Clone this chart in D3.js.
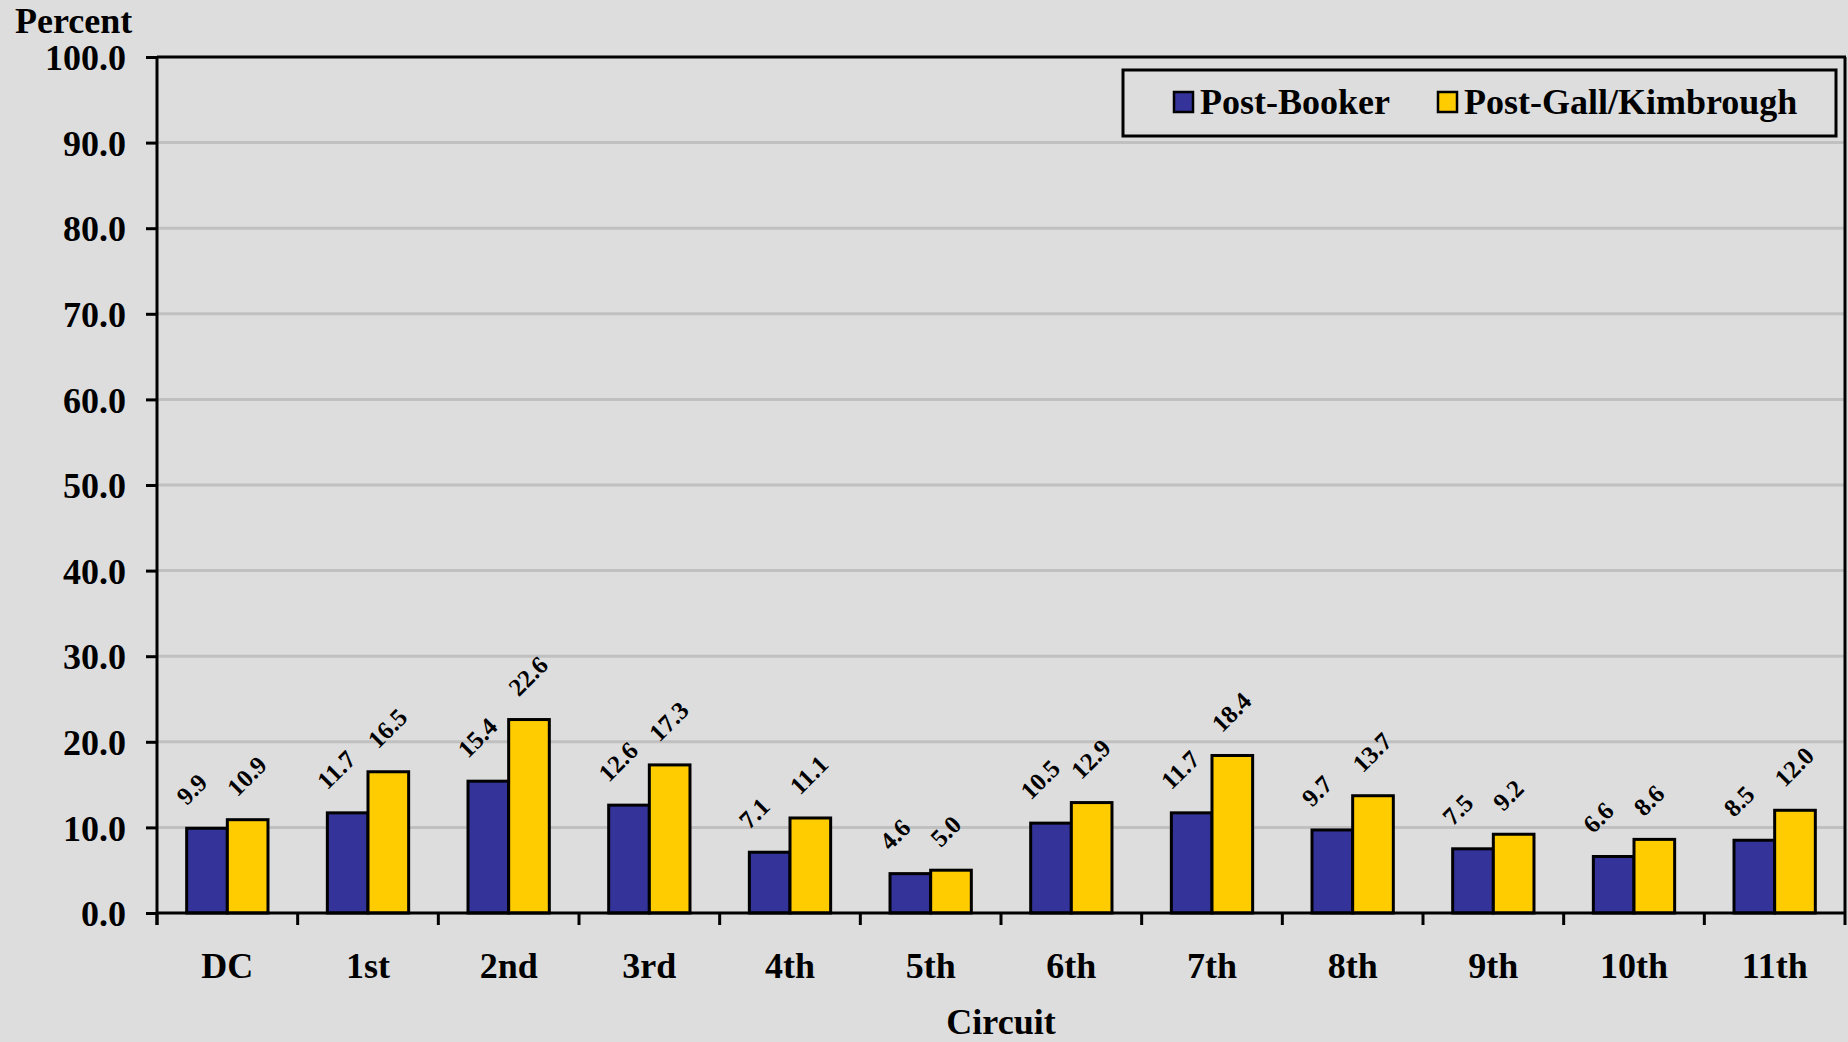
<!DOCTYPE html>
<html>
<head>
<meta charset="utf-8">
<script src="https://cdn.jsdelivr.net/npm/d3@7"></script>
<style>
  body { margin: 0; background: #dddddd; }
  svg text { font-family: "Liberation Serif", "Times New Roman", serif; font-weight: bold; fill: #000; }
</style>
</head>
<body>
<svg id="chartSvg" width="1848" height="1042"></svg>
<script>
// chart data
var circuits = ["DC", "1st", "2nd", "3rd", "4th", "5th", "6th", "7th", "8th", "9th", "10th", "11th"];
var postBooker = [9.9, 11.7, 15.4, 12.6, 7.1, 4.6, 10.5, 11.7, 9.7, 7.5, 6.6, 8.5];
var postGall = [10.9, 16.5, 22.6, 17.3, 11.1, 5.0, 12.9, 18.4, 13.7, 9.2, 8.6, 12.0];
var seriesNames = ["Post-Booker", "Post-Gall/Kimbrough"];
var seriesColors = ["#333399", "#ffcc00"];
var yTicks = [0, 10, 20, 30, 40, 50, 60, 70, 80, 90, 100];

var svg = d3.select("#chartSvg");
var plotLeft = 157, plotRight = 1845, plotTop = 57, plotBottom = 913;

svg.append("rect").attr("width", 1848).attr("height", 1042).attr("fill", "#dddddd");

var xScale = d3.scaleBand().domain(circuits).range([plotLeft, plotRight]).padding(0);
var yScale = d3.scaleLinear().domain([0, 100]).range([plotBottom, plotTop]);
var barScale = d3.scaleBand().domain([0, 1]).range([0, xScale.bandwidth()]).paddingOuter(0.73).paddingInner(0);

// gridlines
svg.append("g")
  .selectAll("line")
  .data(yTicks.filter(d => d > 0 && d < 100))
  .enter().append("line")
  .attr("x1", plotLeft).attr("x2", plotRight)
  .attr("y1", d => yScale(d)).attr("y2", d => yScale(d))
  .attr("stroke", "#c0c0c0").attr("stroke-width", 3);

// frame top & right
svg.append("line").attr("x1", plotLeft).attr("x2", plotRight + 1).attr("y1", plotTop).attr("y2", plotTop)
  .attr("stroke", "#000").attr("stroke-width", 3);
svg.append("line").attr("x1", plotRight).attr("x2", plotRight).attr("y1", plotTop).attr("y2", plotBottom)
  .attr("stroke", "#000").attr("stroke-width", 3);

// bars
var rows = circuits.map((c, i) => ({ c: c, vals: [postBooker[i], postGall[i]] }));
var groups = svg.append("g").selectAll("g")
  .data(rows).enter().append("g")
  .attr("transform", d => "translate(" + xScale(d.c) + ",0)");

groups.selectAll("rect")
  .data(d => d.vals.map((v, k) => ({ k: k, v: v })))
  .enter().append("rect")
  .attr("x", d => barScale(d.k))
  .attr("width", barScale.bandwidth())
  .attr("y", d => yScale(d.v))
  .attr("height", d => plotBottom - yScale(d.v))
  .attr("fill", d => seriesColors[d.k])
  .attr("stroke", "#000").attr("stroke-width", 3);

// rotated value labels (blue ones sit a bit further left)
var labelDx = [0, 10];
groups.selectAll("text")
  .data(d => d.vals.map((v, k) => ({ k: k, v: v })))
  .enter().append("text")
  .attr("transform", d => "translate(" + (barScale(d.k) + labelDx[d.k]) + "," + (yScale(d.v) - 22) + ") rotate(-45)")
  .attr("font-size", 25)
  .text(d => d3.format(".1f")(d.v));

// y axis
var yAxis = svg.append("g").attr("transform", "translate(" + plotLeft + ",0)")
  .call(d3.axisLeft(yScale).tickValues(yTicks).tickFormat(d3.format(".1f")).tickSize(11).tickPadding(20));
yAxis.select(".domain").attr("stroke-width", 3).attr("d", "M0," + plotTop + "V" + (plotBottom + 12));
yAxis.selectAll(".tick line").attr("stroke-width", 3);
yAxis.selectAll("text").attr("font-size", 36).attr("dy", "0.35em").style("font-family", "Liberation Serif").style("font-weight", "bold");

// x axis
var xAxis = svg.append("g").attr("transform", "translate(0," + plotBottom + ")")
  .call(d3.axisBottom(xScale).tickSize(0).tickPadding(0));
xAxis.select(".domain").attr("stroke-width", 3).attr("d", "M" + plotLeft + ",0H" + (plotRight + 1));
xAxis.selectAll(".tick text").attr("font-size", 36).attr("y", 65).attr("dy", 0)
  .style("font-family", "Liberation Serif").style("font-weight", "bold");
svg.append("g").selectAll("line")
  .data(d3.range(circuits.length + 1))
  .enter().append("line")
  .attr("x1", i => plotLeft + i * xScale.step()).attr("x2", i => plotLeft + i * xScale.step())
  .attr("y1", plotBottom).attr("y2", plotBottom + 12)
  .attr("stroke", "#000").attr("stroke-width", 3);

// axis titles
svg.append("text").attr("x", 15).attr("y", 33).attr("font-size", 36).text("Percent");
svg.append("text").attr("x", (plotLeft + plotRight) / 2).attr("y", 1034).attr("text-anchor", "middle")
  .attr("font-size", 36).text("Circuit");

// legend
var legend = svg.append("g");
legend.append("rect").attr("x", 1123).attr("y", 70).attr("width", 713).attr("height", 66)
  .attr("fill", "none").attr("stroke", "#000").attr("stroke-width", 3);
var legendX = [1174, 1438];
seriesNames.forEach(function (name, i) {
  legend.append("rect").attr("x", legendX[i]).attr("y", 92).attr("width", 19).attr("height", 20)
    .attr("fill", seriesColors[i]).attr("stroke", "#000").attr("stroke-width", 2.5);
  legend.append("text").attr("x", legendX[i] + 26).attr("y", 114).attr("font-size", 36).text(name);
});
</script>
</body>
</html>
